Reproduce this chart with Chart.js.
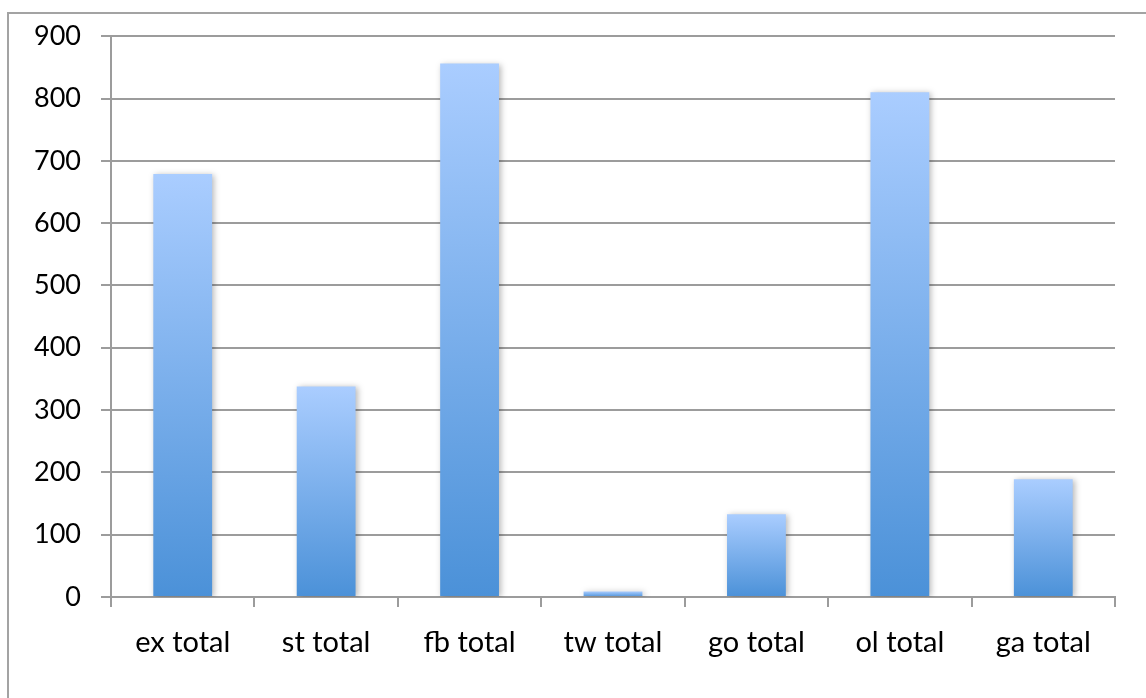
<!DOCTYPE html>
<html>
<head>
<meta charset="utf-8">
<script src="https://cdn.jsdelivr.net/npm/chart.js@4"></script>
<style>
  html, body { margin: 0; padding: 0; background: #fff; }
  #wrap { position: relative; width: 1146px; height: 698px; }
  #moldura {
    position: absolute; left: 7px; top: 12px; right: -10px; bottom: -10px;
    border-left: 2px solid #a3a3a3; border-top: 2px solid #a3a3a3;
    pointer-events: none;
  }
</style>
</head>
<body>
<div id="wrap">
  <canvas id="grafico" width="1146" height="698"></canvas>
  <div id="moldura"></div>
</div>
<script>
const categorias = ['ex total', 'st total', 'fb total', 'tw total', 'go total', 'ol total', 'ga total'];
const valores = [679, 338, 856, 9, 133, 810, 189];
const eixoMin = 0;
const eixoMax = 900;
const eixoPasso = 100;

const corGrade = '#9c9c9c';
const fonte = "Lato, 'Open Sans', sans-serif";

function gradienteBarra(ctx) {
    const chart = ctx.chart;
    if (!chart.chartArea || ctx.dataIndex === undefined) {
        return '#7fb0ee';
    }
    const y = chart.scales.y;
    const topo = y.getPixelForValue(valores[ctx.dataIndex]);
    const base = y.getPixelForValue(0);
    const g = chart.ctx.createLinearGradient(0, topo, 0, base);
    g.addColorStop(0, '#aacdff');
    g.addColorStop(1, '#4b91d8');
    return g;
}

// sombra leve a direita das barras, como no Excel
const sombraBarras = {
    id: 'sombraBarras',
    beforeDatasetDraw(chart) {
        const c = chart.ctx;
        c.save();
        c.shadowColor = 'rgba(0,0,0,0.28)';
        c.shadowBlur = 6;
        c.shadowOffsetX = 2;
        c.shadowOffsetY = 1;
    },
    afterDatasetDraw(chart) {
        chart.ctx.restore();
    }
};

new Chart(document.getElementById('grafico'), {
    type: 'bar',
    data: {
        labels: categorias,
        datasets: [{
            data: valores,
            backgroundColor: gradienteBarra,
            borderWidth: 0,
            categoryPercentage: 0.82,
            barPercentage: 0.5
        }]
    },
    options: {
        responsive: false,
        animation: false,
        layout: { padding: { left: 0, top: 32, right: 31, bottom: 0 } },
        plugins: {
            legend: { display: false },
            tooltip: { enabled: false }
        },
        scales: {
            x: {
                afterFit(scale) { scale.height = 101; },
                grid: {
                    offset: true,
                    drawOnChartArea: false,
                    drawTicks: true,
                    tickLength: 10,
                    color: corGrade,
                    lineWidth: 2
                },
                border: { display: true, color: corGrade, width: 2 },
                ticks: {
                    color: '#000',
                    padding: 18,
                    font: { family: fonte, size: 29 }
                }
            },
            y: {
                min: eixoMin,
                max: eixoMax,
                afterFit(scale) { scale.width = 111; },
                grid: {
                    color: corGrade,
                    lineWidth: 2,
                    tickLength: 10
                },
                border: { display: true, color: corGrade, width: 2 },
                ticks: {
                    stepSize: eixoPasso,
                    color: '#000',
                    padding: 20,
                    font: { family: fonte, size: 27 }
                }
            }
        }
    },
    plugins: [sombraBarras]
});
</script>
</body>
</html>
